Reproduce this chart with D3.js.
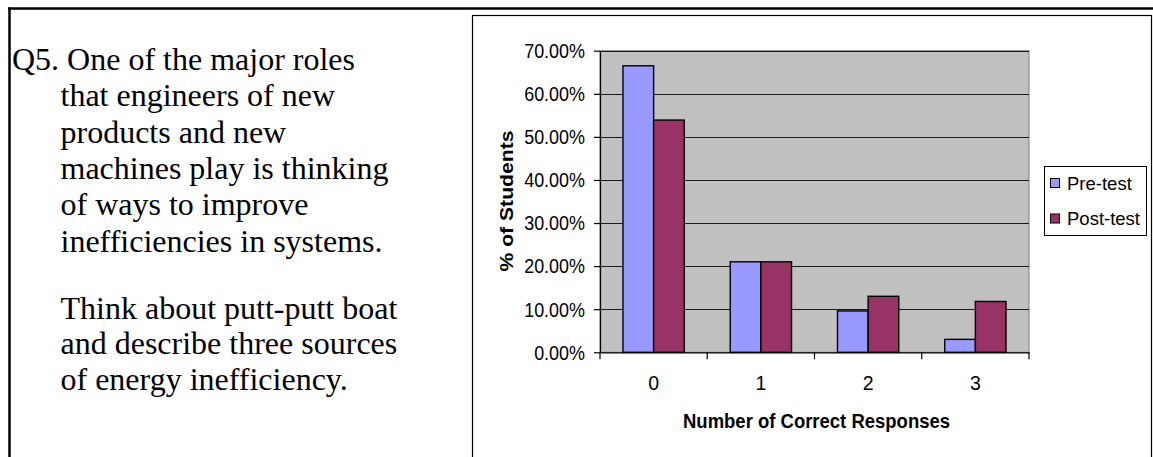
<!DOCTYPE html>
<html>
<head>
<meta charset="utf-8">
<script src="https://cdn.jsdelivr.net/npm/d3@7"></script>
<style>
  body { margin: 0; background: #ffffff; }
  svg { display: block; }
</style>
</head>
<body>
<svg id="page" width="1153" height="457"></svg>
<script>
// Share of students per number of correct responses
const categories = ["0", "1", "2", "3"];
const seriesNames = ["Pre-test", "Post-test"];
const preTest = [0.665, 0.210, 0.096, 0.030];
const postTest = [0.539, 0.210, 0.130, 0.118];
const yTickValues = [0, 0.1, 0.2, 0.3, 0.4, 0.5, 0.6, 0.7];
const seriesColors = ["#9999FF", "#993366"];

// Question text on the left of the slide
const questionLines = [
  "Q5. One of the major roles",
  "that engineers of new",
  "products and new",
  "machines play is thinking",
  "of ways to improve",
  "inefficiencies in systems."
];
const promptLines = [
  "Think about putt-putt boat",
  "and describe three sources",
  "of energy inefficiency."
];

const svg = d3.select("#page");
const SANS = "'Liberation Sans', Arial, sans-serif";
const SERIF = "'Liberation Serif', 'Times New Roman', serif";

// ---- slide frame ----
svg.append("line").attr("x1", 8).attr("x2", 1153).attr("y1", 8.5).attr("y2", 8.5)
  .attr("stroke", "#000").attr("stroke-width", 2.5);
svg.append("line").attr("x1", 9.5).attr("x2", 9.5).attr("y1", 7.5).attr("y2", 457)
  .attr("stroke", "#000").attr("stroke-width", 2.5);

// ---- question text ----
const qText = svg.append("g").attr("font-family", SERIF).attr("font-size", 32).attr("fill", "#000");
questionLines.forEach((t, i) => {
  qText.append("text").attr("x", i === 0 ? 12 : 60.5).attr("y", 70 + i * 36.3).text(t);
});
promptLines.forEach((t, i) => {
  qText.append("text").attr("x", 60.5).attr("y", 318.5 + i * 35.9).text(t);
});

// ---- chart box ----
svg.append("rect").attr("x", 472.5).attr("y", 15.5).attr("width", 679).attr("height", 460)
  .attr("fill", "#fff").attr("stroke", "#000").attr("stroke-width", 1.2);

const plot = { left: 600, right: 1029, top: 50.7, bottom: 352.3 };

const x = d3.scaleBand().domain(categories).range([plot.left, plot.right]).padding(0);
const xSub = d3.scaleBand().domain(seriesNames).range([0, x.bandwidth()])
  .paddingInner(0).paddingOuter(0.75);
const y = d3.scaleLinear().domain([0, 0.7]).range([plot.bottom, plot.top]);

// plot area background
svg.append("rect")
  .attr("x", plot.left).attr("y", plot.top)
  .attr("width", plot.right - plot.left).attr("height", plot.bottom - plot.top)
  .attr("fill", "#C0C0C0").attr("stroke", "#808080").attr("stroke-width", 1);

// horizontal gridlines
svg.append("g").selectAll("line").data(yTickValues.filter(v => v > 0)).join("line")
  .attr("x1", plot.left).attr("x2", plot.right)
  .attr("y1", d => Math.round(y(d)) + 0.5).attr("y2", d => Math.round(y(d)) + 0.5)
  .attr("stroke", "#1a1a1a").attr("stroke-width", 1);

// bars
const seriesData = [preTest, postTest];
const groups = svg.append("g").selectAll("g").data(seriesNames).join("g")
  .attr("fill", (d, i) => seriesColors[i]);
groups.selectAll("rect")
  .data((name, si) => categories.map((c, ci) => ({ c, name, v: seriesData[si][ci] })))
  .join("rect")
  .attr("x", d => x(d.c) + xSub(d.name))
  .attr("y", d => y(d.v))
  .attr("width", xSub.bandwidth())
  .attr("height", d => y(0) - y(d.v))
  .attr("stroke", "#000").attr("stroke-width", 1.4);

// slightly condensed tick labels
function squeeze(sel, factor) {
  sel.each(function () {
    const w = this.getComputedTextLength();
    d3.select(this).attr("textLength", w * factor).attr("lengthAdjust", "spacingAndGlyphs");
  });
}

// y axis
const yAxis = svg.append("g")
  .attr("transform", `translate(${plot.left},0)`)
  .call(d3.axisLeft(y).tickValues(yTickValues).tickFormat(d3.format(".2%"))
    .tickSize(6).tickSizeOuter(0));
yAxis.select(".domain").attr("stroke", "#000").attr("stroke-width", 1.2);
yAxis.selectAll(".tick line").attr("stroke", "#000").attr("stroke-width", 1.2);
yAxis.selectAll(".tick text")
  .attr("font-family", SANS).attr("font-size", 19.5).attr("fill", "#000")
  .attr("dy", "0.35em").attr("x", -15);
squeeze(yAxis.selectAll(".tick text"), 0.92);

// x axis: line, tick marks between categories, labels at category centres
const xAxis = svg.append("g")
  .attr("transform", `translate(0,${plot.bottom})`)
  .call(d3.axisBottom(x).tickSize(0));
xAxis.select(".domain").attr("stroke", "#000").attr("stroke-width", 1.2);
xAxis.selectAll(".tick text")
  .attr("font-family", SANS).attr("font-size", 19.5).attr("fill", "#000")
  .attr("dy", 0).attr("y", 38);
const boundaries = categories.map(c => x(c)).concat([x.range()[1]]);
xAxis.selectAll(".bound").data(boundaries).join("line").attr("class", "bound")
  .attr("x1", d => d).attr("x2", d => d).attr("y1", 0).attr("y2", 7)
  .attr("stroke", "#000").attr("stroke-width", 1.2);

// axis titles
svg.append("text")
  .attr("x", (plot.left + plot.right) / 2 + 2).attr("y", 428)
  .attr("text-anchor", "middle").attr("font-family", SANS).attr("font-weight", "bold")
  .attr("font-size", 19.5).attr("textLength", 267).attr("lengthAdjust", "spacingAndGlyphs")
  .text("Number of Correct Responses");
svg.append("text")
  .attr("transform", "translate(512.5,201) rotate(-90)")
  .attr("text-anchor", "middle").attr("font-family", SANS).attr("font-weight", "bold")
  .attr("font-size", 19).attr("textLength", 141).attr("lengthAdjust", "spacingAndGlyphs")
  .text("% of Students");

// legend
const legend = svg.append("g");
legend.append("rect").attr("x", 1044.5).attr("y", 166.5).attr("width", 102).attr("height", 69)
  .attr("fill", "#fff").attr("stroke", "#000").attr("stroke-width", 1);
const items = legend.selectAll("g.item").data(seriesNames).join("g").attr("class", "item")
  .attr("transform", (d, i) => `translate(0,${183 + i * 35.5})`);
items.append("rect").attr("x", 1050.5).attr("y", -4.5).attr("width", 9).attr("height", 9)
  .attr("fill", (d, i) => seriesColors[i]).attr("stroke", "#000").attr("stroke-width", 1);
items.append("text").attr("x", 1067).attr("y", 6.5)
  .attr("font-family", SANS).attr("font-size", 18.5).attr("fill", "#000")
  .text(d => d);
</script>
</body>
</html>
